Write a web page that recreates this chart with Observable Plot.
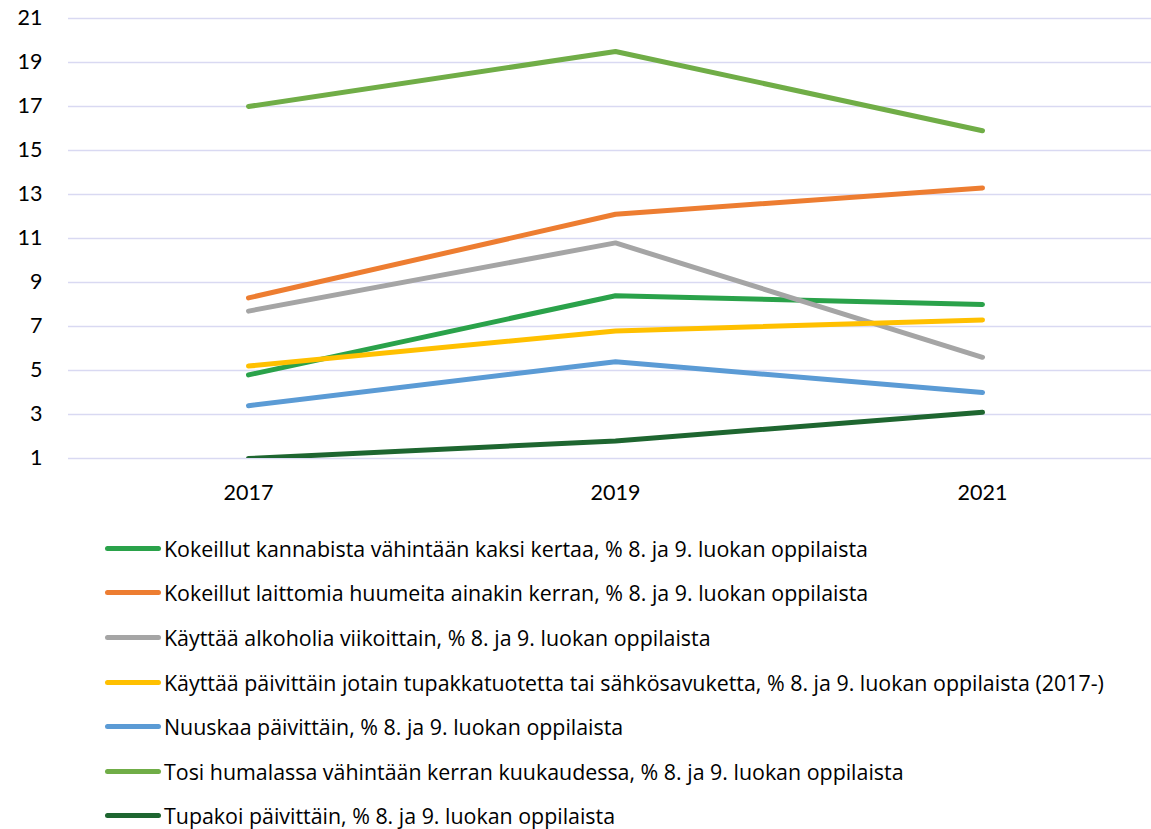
<!DOCTYPE html>
<html>
<head>
<meta charset="utf-8">
<script src="https://cdn.jsdelivr.net/npm/d3@7"></script>
<script src="https://cdn.jsdelivr.net/npm/@observablehq/plot@0.6"></script>
<style>
  html, body { margin: 0; padding: 0; background: #fff; }
  body { width: 1151px; font-family: "Open Sans", Lato, sans-serif; color: #000; }
  #legend { margin-top: 6px; }
  .row { display: flex; align-items: center; height: 44.6px; padding-left: 105px; font-size: 21.4px; white-space: nowrap; }
  .sw { display: inline-block; width: 56px; height: 5px; border-radius: 3px; margin-right: 3px; flex: none; }
</style>
</head>
<body>
<div id="chart"></div>
<div id="legend"></div>
<script>
const years = [2017, 2019, 2021];
const seriesNames = [
  "Kokeillut kannabista vähintään kaksi kertaa, % 8. ja 9. luokan oppilaista",
  "Kokeillut laittomia huumeita ainakin kerran, % 8. ja 9. luokan oppilaista",
  "Käyttää alkoholia viikoittain, % 8. ja 9. luokan oppilaista",
  "Käyttää päivittäin jotain tupakkatuotetta tai sähkösavuketta, % 8. ja 9. luokan oppilaista (2017-)",
  "Nuuskaa päivittäin, % 8. ja 9. luokan oppilaista",
  "Tosi humalassa vähintään kerran kuukaudessa, % 8. ja 9. luokan oppilaista",
  "Tupakoi päivittäin, % 8. ja 9. luokan oppilaista"
];
const kannabis   = [4.8, 8.4, 8.0];
const huumeet    = [8.3, 12.1, 13.3];
const alkoholi   = [7.7, 10.8, 5.6];
const tupakkatuote = [5.2, 6.8, 7.3];
const nuuska     = [3.4, 5.4, 4.0];
const humala     = [17.0, 19.5, 15.9];
const tupakoi    = [1.0, 1.8, 3.1];
const seriesValues = [kannabis, huumeet, alkoholi, tupakkatuote, nuuska, humala, tupakoi];
const colors = ["#2aa24a", "#ed7d31", "#a5a5a5", "#ffc000", "#5b9bd5", "#70ad47", "#1e6630"];
const yTicks = [1, 3, 5, 7, 9, 11, 13, 15, 17, 19, 21];

const data = [];
seriesNames.forEach((name, i) => {
  years.forEach((yr, j) => data.push({series: name, year: yr, value: seriesValues[i][j]}));
});

const chart = Plot.plot({
  width: 1151,
  height: 520,
  marginLeft: 68,
  marginRight: 0,
  marginTop: 18,
  marginBottom: 62,
  style: {fontFamily: "Lato, 'Open Sans', sans-serif", fontSize: "21px", color: "#000", background: "#fff"},
  x: {type: "point", domain: years, range: [248, 982], padding: 0, label: null, tickSize: 0, tickPadding: 26},
  y: {domain: [1, 21], ticks: yTicks, label: null, tickSize: 0, tickPadding: 26},
  color: {domain: seriesNames, range: colors},
  marks: [
    Plot.gridY(yTicks, {stroke: "#d9d9f2", strokeOpacity: 1, strokeWidth: 1.6}),
    Plot.axisY({ticks: yTicks, tickSize: 0, tickPadding: 26, fontSize: 21.5, label: null}),
    Plot.axisX({tickSize: 0, tickPadding: 26, fontSize: 21.5, label: null, tickFormat: d => String(d)}),
    Plot.line(data, {x: "year", y: "value", z: "series", stroke: "series", strokeWidth: 5,
      strokeLinecap: "round", strokeLinejoin: "round", clip: true})
  ]
});
document.getElementById("chart").appendChild(chart);

const legend = document.getElementById("legend");
seriesNames.forEach((name, i) => {
  const row = document.createElement("div");
  row.className = "row";
  const sw = document.createElement("span");
  sw.className = "sw";
  sw.style.background = colors[i];
  const t = document.createElement("span");
  t.textContent = name;
  row.appendChild(sw);
  row.appendChild(t);
  legend.appendChild(row);
});
</script>
</body>
</html>
